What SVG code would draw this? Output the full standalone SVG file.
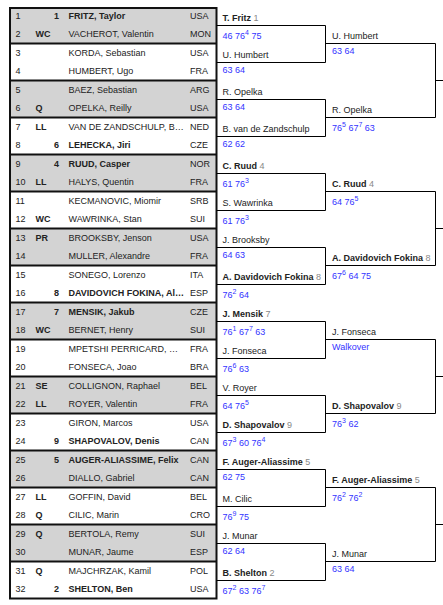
<svg xmlns="http://www.w3.org/2000/svg" width="443" height="605" viewBox="0 0 443 605">
<style>
.t{font-family:"Liberation Sans",Arial,sans-serif;font-size:9px;fill:#222}
.b{font-weight:bold}
.e{text-anchor:end}
.sd{fill:#888;font-weight:normal}
.sc{fill:#3333ff}
.sup{font-size:7px}
.ln{stroke:#000;stroke-width:1;fill:none}
.tb{stroke:#111;stroke-width:2;fill:none}
.g{fill:#d3d3d3}
</style>
<rect width="443" height="605" fill="#fff"/>
<g id="table-bg">
<rect class="g" x="10" y="8" width="206.5" height="35.5"/>
<rect class="g" x="10" y="80.5" width="206.5" height="37"/>
<rect class="g" x="10" y="154.5" width="206.5" height="37"/>
<rect class="g" x="10" y="228.5" width="206.5" height="37"/>
<rect class="g" x="10" y="302.5" width="206.5" height="37"/>
<rect class="g" x="10" y="376.5" width="206.5" height="37"/>
<rect class="g" x="10" y="450.5" width="206.5" height="37"/>
<rect class="g" x="10" y="524.5" width="206.5" height="37"/>
</g>
<g id="table-borders">
<rect class="tb" x="10" y="8" width="206.5" height="590.5"/>
<path class="tb" d="M10,43.5H216.5M10,80.5H216.5M10,117.5H216.5M10,154.5H216.5M10,191.5H216.5M10,228.5H216.5M10,265.5H216.5M10,302.5H216.5M10,339.5H216.5M10,376.5H216.5M10,413.5H216.5M10,450.5H216.5M10,487.5H216.5M10,524.5H216.5M10,561.5H216.5"/>
</g>
<g id="p1"><text class="t" x="15.5" y="19.3">1</text><text class="t b e" x="59" y="19.3">1</text><text class="t b" x="68.5" y="19.3">FRITZ, Taylor</text><text class="t" x="190" y="19.3">USA</text></g>
<g id="p2"><text class="t" x="15.5" y="37.3">2</text><text class="t b" x="35.5" y="37.3">WC</text><text class="t" x="68.5" y="37.3">VACHEROT, Valentin</text><text class="t" x="190" y="37.3">MON</text></g>
<g id="p3"><text class="t" x="15.5" y="56.3">3</text><text class="t" x="68.5" y="56.3">KORDA, Sebastian</text><text class="t" x="190" y="56.3">USA</text></g>
<g id="p4"><text class="t" x="15.5" y="74.3">4</text><text class="t" x="68.5" y="74.3">HUMBERT, Ugo</text><text class="t" x="190" y="74.3">FRA</text></g>
<g id="p5"><text class="t" x="15.5" y="93.3">5</text><text class="t" x="68.5" y="93.3">BAEZ, Sebastian</text><text class="t" x="190" y="93.3">ARG</text></g>
<g id="p6"><text class="t" x="15.5" y="111.3">6</text><text class="t b" x="35.5" y="111.3">Q</text><text class="t" x="68.5" y="111.3">OPELKA, Reilly</text><text class="t" x="190" y="111.3">USA</text></g>
<g id="p7"><text class="t" x="15.5" y="130.3">7</text><text class="t b" x="35.5" y="130.3">LL</text><text class="t" x="68.5" y="130.3">VAN DE ZANDSCHULP, B…</text><text class="t" x="190" y="130.3">NED</text></g>
<g id="p8"><text class="t" x="15.5" y="148.3">8</text><text class="t b e" x="59" y="148.3">6</text><text class="t b" x="68.5" y="148.3">LEHECKA, Jiri</text><text class="t" x="190" y="148.3">CZE</text></g>
<g id="p9"><text class="t" x="15.5" y="167.3">9</text><text class="t b e" x="59" y="167.3">4</text><text class="t b" x="68.5" y="167.3">RUUD, Casper</text><text class="t" x="190" y="167.3">NOR</text></g>
<g id="p10"><text class="t" x="15.5" y="185.3">10</text><text class="t b" x="35.5" y="185.3">LL</text><text class="t" x="68.5" y="185.3">HALYS, Quentin</text><text class="t" x="190" y="185.3">FRA</text></g>
<g id="p11"><text class="t" x="15.5" y="204.3">11</text><text class="t" x="68.5" y="204.3">KECMANOVIC, Miomir</text><text class="t" x="190" y="204.3">SRB</text></g>
<g id="p12"><text class="t" x="15.5" y="222.3">12</text><text class="t b" x="35.5" y="222.3">WC</text><text class="t" x="68.5" y="222.3">WAWRINKA, Stan</text><text class="t" x="190" y="222.3">SUI</text></g>
<g id="p13"><text class="t" x="15.5" y="241.3">13</text><text class="t b" x="35.5" y="241.3">PR</text><text class="t" x="68.5" y="241.3">BROOKSBY, Jenson</text><text class="t" x="190" y="241.3">USA</text></g>
<g id="p14"><text class="t" x="15.5" y="259.3">14</text><text class="t" x="68.5" y="259.3">MULLER, Alexandre</text><text class="t" x="190" y="259.3">FRA</text></g>
<g id="p15"><text class="t" x="15.5" y="278.3">15</text><text class="t" x="68.5" y="278.3">SONEGO, Lorenzo</text><text class="t" x="190" y="278.3">ITA</text></g>
<g id="p16"><text class="t" x="15.5" y="296.3">16</text><text class="t b e" x="59" y="296.3">8</text><text class="t b" x="68.5" y="296.3">DAVIDOVICH FOKINA, Al…</text><text class="t" x="190" y="296.3">ESP</text></g>
<g id="p17"><text class="t" x="15.5" y="315.3">17</text><text class="t b e" x="59" y="315.3">7</text><text class="t b" x="68.5" y="315.3">MENSIK, Jakub</text><text class="t" x="190" y="315.3">CZE</text></g>
<g id="p18"><text class="t" x="15.5" y="333.3">18</text><text class="t b" x="35.5" y="333.3">WC</text><text class="t" x="68.5" y="333.3">BERNET, Henry</text><text class="t" x="190" y="333.3">SUI</text></g>
<g id="p19"><text class="t" x="15.5" y="352.3">19</text><text class="t" x="68.5" y="352.3">MPETSHI PERRICARD, …</text><text class="t" x="190" y="352.3">FRA</text></g>
<g id="p20"><text class="t" x="15.5" y="370.3">20</text><text class="t" x="68.5" y="370.3">FONSECA, Joao</text><text class="t" x="190" y="370.3">BRA</text></g>
<g id="p21"><text class="t" x="15.5" y="389.3">21</text><text class="t b" x="35.5" y="389.3">SE</text><text class="t" x="68.5" y="389.3">COLLIGNON, Raphael</text><text class="t" x="190" y="389.3">BEL</text></g>
<g id="p22"><text class="t" x="15.5" y="407.3">22</text><text class="t b" x="35.5" y="407.3">LL</text><text class="t" x="68.5" y="407.3">ROYER, Valentin</text><text class="t" x="190" y="407.3">FRA</text></g>
<g id="p23"><text class="t" x="15.5" y="426.3">23</text><text class="t" x="68.5" y="426.3">GIRON, Marcos</text><text class="t" x="190" y="426.3">USA</text></g>
<g id="p24"><text class="t" x="15.5" y="444.3">24</text><text class="t b e" x="59" y="444.3">9</text><text class="t b" x="68.5" y="444.3">SHAPOVALOV, Denis</text><text class="t" x="190" y="444.3">CAN</text></g>
<g id="p25"><text class="t" x="15.5" y="463.3">25</text><text class="t b e" x="59" y="463.3">5</text><text class="t b" x="68.5" y="463.3">AUGER-ALIASSIME, Felix</text><text class="t" x="190" y="463.3">CAN</text></g>
<g id="p26"><text class="t" x="15.5" y="481.3">26</text><text class="t" x="68.5" y="481.3">DIALLO, Gabriel</text><text class="t" x="190" y="481.3">CAN</text></g>
<g id="p27"><text class="t" x="15.5" y="500.3">27</text><text class="t b" x="35.5" y="500.3">LL</text><text class="t" x="68.5" y="500.3">GOFFIN, David</text><text class="t" x="190" y="500.3">BEL</text></g>
<g id="p28"><text class="t" x="15.5" y="518.3">28</text><text class="t b" x="35.5" y="518.3">Q</text><text class="t" x="68.5" y="518.3">CILIC, Marin</text><text class="t" x="190" y="518.3">CRO</text></g>
<g id="p29"><text class="t" x="15.5" y="537.3">29</text><text class="t b" x="35.5" y="537.3">Q</text><text class="t" x="68.5" y="537.3">BERTOLA, Remy</text><text class="t" x="190" y="537.3">SUI</text></g>
<g id="p30"><text class="t" x="15.5" y="555.3">30</text><text class="t" x="68.5" y="555.3">MUNAR, Jaume</text><text class="t" x="190" y="555.3">ESP</text></g>
<g id="p31"><text class="t" x="15.5" y="574.3">31</text><text class="t b" x="35.5" y="574.3">Q</text><text class="t" x="68.5" y="574.3">MAJCHRZAK, Kamil</text><text class="t" x="190" y="574.3">POL</text></g>
<g id="p32"><text class="t" x="15.5" y="592.3">32</text><text class="t b e" x="59" y="592.3">2</text><text class="t b" x="68.5" y="592.3">SHELTON, Ben</text><text class="t" x="190" y="592.3">USA</text></g>
<g id="connectors">
<path class="ln" d="M216.5,25.5H325.5V62.5H216.5M216.5,99.5H325.5V136.5H216.5M216.5,173.5H325.5V210.5H216.5M216.5,247.5H325.5V284.5H216.5M216.5,321.5H325.5V358.5H216.5M216.5,395.5H325.5V432.5H216.5M216.5,469.5H325.5V506.5H216.5M216.5,543.5H325.5V580.5H216.5"/>
<path class="ln" d="M325.5,43.5H435.5V117.5H325.5M325.5,191.5H435.5V265.5H325.5M325.5,339.5H435.5V413.5H325.5M325.5,487.5H435.5V561.5H325.5"/>
<path class="ln" d="M435.5,80.5H443M435.5,228.5H443M435.5,376.5H443M435.5,524.5H443"/>
</g>
<g id="r16-1"><text class="t b" x="222.5" y="21">T. Fritz<tspan class="sd"> 1</tspan></text><text class="t sc" x="222.5" y="39.2">46 76<tspan class="sup" dy="-4">4</tspan><tspan dy="4"> 75</tspan></text></g>
<g id="r16-2"><text class="t" x="222.5" y="58">U. Humbert</text><text class="t sc" x="222.5" y="73.2">63 64</text></g>
<g id="r16-3"><text class="t" x="222.5" y="95">R. Opelka</text><text class="t sc" x="222.5" y="110.2">63 64</text></g>
<g id="r16-4"><text class="t" x="222.5" y="132">B. van de Zandschulp</text><text class="t sc" x="222.5" y="147.2">62 62</text></g>
<g id="r16-5"><text class="t b" x="222.5" y="169">C. Ruud<tspan class="sd"> 4</tspan></text><text class="t sc" x="222.5" y="187.2">61 76<tspan class="sup" dy="-4">3</tspan></text></g>
<g id="r16-6"><text class="t" x="222.5" y="206">S. Wawrinka</text><text class="t sc" x="222.5" y="224.2">61 76<tspan class="sup" dy="-4">3</tspan></text></g>
<g id="r16-7"><text class="t" x="222.5" y="243">J. Brooksby</text><text class="t sc" x="222.5" y="258.2">64 63</text></g>
<g id="r16-8"><text class="t b" x="222.5" y="280">A. Davidovich Fokina<tspan class="sd"> 8</tspan></text><text class="t sc" x="222.5" y="298.2">76<tspan class="sup" dy="-4">2</tspan><tspan dy="4"> 64</tspan></text></g>
<g id="r16-9"><text class="t b" x="222.5" y="317">J. Mensik<tspan class="sd"> 7</tspan></text><text class="t sc" x="222.5" y="335.2">76<tspan class="sup" dy="-4">1</tspan><tspan dy="4"> 67</tspan><tspan class="sup" dy="-4">7</tspan><tspan dy="4"> 63</tspan></text></g>
<g id="r16-10"><text class="t" x="222.5" y="354">J. Fonseca</text><text class="t sc" x="222.5" y="372.2">76<tspan class="sup" dy="-4">6</tspan><tspan dy="4"> 63</tspan></text></g>
<g id="r16-11"><text class="t" x="222.5" y="391">V. Royer</text><text class="t sc" x="222.5" y="409.2">64 76<tspan class="sup" dy="-4">5</tspan></text></g>
<g id="r16-12"><text class="t b" x="222.5" y="428">D. Shapovalov<tspan class="sd"> 9</tspan></text><text class="t sc" x="222.5" y="446.2">67<tspan class="sup" dy="-4">3</tspan><tspan dy="4"> 60 76</tspan><tspan class="sup" dy="-4">4</tspan></text></g>
<g id="r16-13"><text class="t b" x="222.5" y="465">F. Auger-Aliassime<tspan class="sd"> 5</tspan></text><text class="t sc" x="222.5" y="480.2">62 75</text></g>
<g id="r16-14"><text class="t" x="222.5" y="502">M. Cilic</text><text class="t sc" x="222.5" y="520.2">76<tspan class="sup" dy="-4">9</tspan><tspan dy="4"> 75</tspan></text></g>
<g id="r16-15"><text class="t" x="222.5" y="539">J. Munar</text><text class="t sc" x="222.5" y="554.2">62 64</text></g>
<g id="r16-16"><text class="t b" x="222.5" y="576">B. Shelton<tspan class="sd"> 2</tspan></text><text class="t sc" x="222.5" y="594.2">67<tspan class="sup" dy="-4">2</tspan><tspan dy="4"> 63 76</tspan><tspan class="sup" dy="-4">7</tspan></text></g>
<g id="qf-1"><text class="t" x="332" y="39">U. Humbert</text><text class="t sc" x="332" y="54.2">63 64</text></g>
<g id="qf-2"><text class="t" x="332" y="113">R. Opelka</text><text class="t sc" x="332" y="131.2">76<tspan class="sup" dy="-4">5</tspan><tspan dy="4"> 67</tspan><tspan class="sup" dy="-4">7</tspan><tspan dy="4"> 63</tspan></text></g>
<g id="qf-3"><text class="t b" x="332" y="187">C. Ruud<tspan class="sd"> 4</tspan></text><text class="t sc" x="332" y="205.2">64 76<tspan class="sup" dy="-4">5</tspan></text></g>
<g id="qf-4"><text class="t b" x="332" y="261">A. Davidovich Fokina<tspan class="sd"> 8</tspan></text><text class="t sc" x="332" y="279.2">67<tspan class="sup" dy="-4">6</tspan><tspan dy="4"> 64 75</tspan></text></g>
<g id="qf-5"><text class="t" x="332" y="335">J. Fonseca</text><text class="t sc" x="332" y="350.2">Walkover</text></g>
<g id="qf-6"><text class="t b" x="332" y="409">D. Shapovalov<tspan class="sd"> 9</tspan></text><text class="t sc" x="332" y="427.2">76<tspan class="sup" dy="-4">3</tspan><tspan dy="4"> 62</tspan></text></g>
<g id="qf-7"><text class="t b" x="332" y="483">F. Auger-Aliassime<tspan class="sd"> 5</tspan></text><text class="t sc" x="332" y="501.2">76<tspan class="sup" dy="-4">2</tspan><tspan dy="4"> 76</tspan><tspan class="sup" dy="-4">2</tspan></text></g>
<g id="qf-8"><text class="t" x="332" y="557">J. Munar</text><text class="t sc" x="332" y="572.2">63 64</text></g>
</svg>
